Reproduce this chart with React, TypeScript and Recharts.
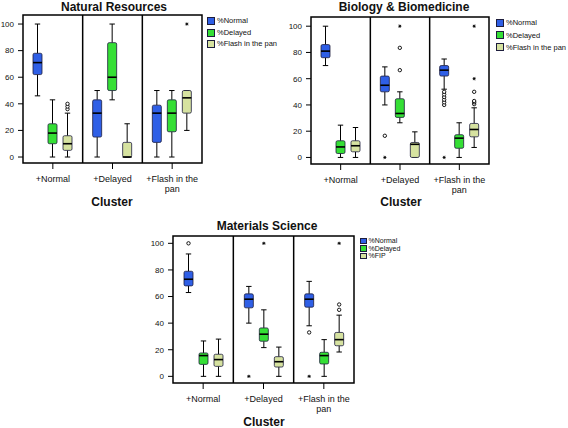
import React from "react";
import {
  ComposedChart,
  Bar,
  XAxis,
  YAxis,
  ReferenceArea,
  ReferenceLine,
} from "recharts";

const CATEGORIES = ["+Normal", "+Delayed", "+Flash in the pan"];
const Y_TICKS = [0, 20, 40, 60, 80, 100];

// [min, q1, median, q3, max] per cluster (+Normal, +Delayed, +Flash in the pan)
const nrNormal = [[46, 62, 71, 78, 100], [0, 15, 33, 43, 50], [0, 11, 33, 39, 50]];
const nrDelayed = [[0, 10, 18, 25, 43], [43, 50, 60, 86, 100], [0, 19, 33, 43, 50]];
const nrFlash = [[0, 5, 10, 16, 33], [0, 0, 0, 11, 25], [20, 33, 44.5, 50, 50]];
const nrFlashOut = [[36, 38, 40], [], []];
const nrFlashExt = [[], [], [100]];

const bbNormal = [[70, 76, 81, 86, 100], [40, 50, 55, 62, 69], [52, 62, 66.5, 70, 75]];
const bbNormalOut = [[], [16.5], [40, 42, 44, 46, 48, 50]];
const bbNormalExt = [[], [0], [0]];
const bbDelayed = [[0, 3, 8, 12.7, 24.6], [26.4, 30.5, 33.5, 44.7, 50], [0, 7, 14.7, 17.3, 26.4]];
const bbDelayedOut = [[], [66.5, 83.5], []];
const bbDelayedExt = [[], [100], []];
const bbFlash = [[0, 4.3, 8.9, 12.7, 22.8], [0, 0, 10, 11.4, 19.5], [7.6, 15.7, 21.3, 25.9, 37.8]];
const bbFlashOut = [[], [], [40.6, 42, 43, 50]];
const bbFlashExt = [[], [], [60, 100]];

const msNormal = [[63, 68, 73, 79, 92], [40, 51.5, 58, 62, 67.6], [38, 52, 58, 62, 71.4]];
const msNormalOut = [[100], [], [33]];
const msNormalExt = [[], [0], [0]];
const msDelayed = [[0, 9, 15.6, 17.6, 26.6], [21.6, 26.4, 31.7, 36.4, 50], [0, 9.3, 15.6, 18.1, 27.6]];
const msDelayedExt = [[], [100], []];
const msFlash = [[0, 7.5, 12.6, 16.6, 28], [0, 7, 11, 14.8, 22], [18.3, 23, 27.6, 33, 46]];
const msFlashOut = [[], [], [50, 54]];
const msFlashExt = [[], [], [100]];

const LEGEND_FULL = ["%Normal", "%Delayed", "%Flash in the pan"];
const LEGEND_SHORT = ["%Normal", "%Delayed", "%FIP"];

const SERIES = [
  { key: "normal", color: "#2f5fe6" },
  { key: "delayed", color: "#35df35" },
  { key: "fip", color: "#d6e2a0" },
];

const FONT = "'Liberation Sans', Arial, sans-serif";
const NONE: number[][] = [[], [], []];
// clusters sit in the middle of unit slots on a 0..3 axis
const X_TICKS = CATEGORIES.map((_, i) => i + 0.5);
const DIVIDERS = CATEGORIES.slice(1).map((_, i) => i + 1);

type Stats = { stats: number[]; out: number[]; ext: number[] };

function buildRows(
  normal: number[][], delayed: number[][], fip: number[][],
  out: number[][][] = [NONE, NONE, NONE], ext: number[][][] = [NONE, NONE, NONE]
) {
  return CATEGORIES.map((cat, i) => ({
    cat,
    pos: i + 0.5,
    normal: { stats: normal[i], out: out[0][i], ext: ext[0][i] },
    delayed: { stats: delayed[i], out: out[1][i], ext: ext[1][i] },
    fip: { stats: fip[i], out: out[2][i], ext: ext[2][i] },
  }));
}

const nrRows = buildRows(nrNormal, nrDelayed, nrFlash, [NONE, NONE, nrFlashOut], [NONE, NONE, nrFlashExt]);
const bbRows = buildRows(
  bbNormal, bbDelayed, bbFlash,
  [bbNormalOut, bbDelayedOut, bbFlashOut],
  [bbNormalExt, bbDelayedExt, bbFlashExt]
);
const msRows = buildRows(
  msNormal, msDelayed, msFlash,
  [msNormalOut, NONE, msFlashOut],
  [msNormalExt, msDelayedExt, msFlashExt]
);

// box drawn on the q1..q3 range bar; whiskers use the same pixel-per-unit
function makeBoxShape(key: string, color: string) {
  return (props: any) => {
    const { x, y, width, height, payload } = props;
    const s: Stats = payload[key];
    const [min, q1, med, q3, max] = s.stats;
    const k = height / (q3 - q1);
    const py = (v: number) => y + (q3 - v) * k;
    const cx = x + width / 2;
    const cap = width * 0.3;
    return (
      <g>
        <line x1={cx} x2={cx} y1={py(max)} y2={py(q3)} stroke="#000" strokeWidth={1} />
        <line x1={cx} x2={cx} y1={py(q1)} y2={py(min)} stroke="#000" strokeWidth={1} />
        <line x1={cx - cap} x2={cx + cap} y1={py(max)} y2={py(max)} stroke="#000" strokeWidth={1} />
        <line x1={cx - cap} x2={cx + cap} y1={py(min)} y2={py(min)} stroke="#000" strokeWidth={1} />
        <rect x={x} y={y} width={width} height={height} rx={1.5} fill={color} stroke="#1d1d3c" strokeWidth={0.8} />
        <line x1={x} x2={x + width} y1={py(med)} y2={py(med)} stroke="#000" strokeWidth={1.6} />
        {s.out.map((v, i) => (
          <circle key={"o" + i} cx={cx} cy={py(v)} r={1.7} fill="#fff" stroke="#000" strokeWidth={0.9} />
        ))}
        {s.ext.map((v, i) => (
          <g key={"e" + i} stroke="#000" strokeWidth={0.8}>
            <line x1={cx - 1.6} x2={cx + 1.6} y1={py(v)} y2={py(v)} />
            <line x1={cx} x2={cx} y1={py(v) - 1.6} y2={py(v) + 1.6} />
            <line x1={cx - 1.2} x2={cx + 1.2} y1={py(v) - 1.2} y2={py(v) + 1.2} />
            <line x1={cx - 1.2} x2={cx + 1.2} y1={py(v) + 1.2} y2={py(v) - 1.2} />
          </g>
        ))}
      </g>
    );
  };
}

function CategoryTick(props: any) {
  const { x, y, payload } = props;
  const label = CATEGORIES[Math.floor(payload.value)] ?? "";
  const words = label.split(" ");
  const lines: string[] = [];
  let cur = "";
  words.forEach((w) => {
    const next = cur ? cur + " " + w : w;
    if (next.length > 13 && cur) {
      lines.push(cur);
      cur = w;
    } else cur = next;
  });
  lines.push(cur);
  return (
    <text x={x} y={y} textAnchor="middle" fontSize={9} fontFamily={FONT} fill="#111">
      {lines.map((l, i) => (
        <tspan key={i} x={x} dy={i === 0 ? "0.71em" : 10}>
          {l}
        </tspan>
      ))}
    </text>
  );
}

interface PanelProps {
  rows: any[];
  domain: [number, number];
  width: number;
  height: number;
  margin: { top: number; right: number; left: number; bottom: number };
}

function Panel({ rows, domain, width, height, margin }: PanelProps) {
  return (
    <ComposedChart width={width} height={height} data={rows} margin={margin} barSize={9} barGap={6}>
      <XAxis
        dataKey="pos"
        type="number"
        domain={[0, 3]}
        allowDataOverflow
        ticks={X_TICKS}
        height={40}
        axisLine={false}
        tickSize={6}
        tickMargin={7}
        tickLine={{ stroke: "#000" }}
        tick={<CategoryTick />}
        interval={0}
      />
      <YAxis
        width={23}
        domain={domain}
        allowDataOverflow
        ticks={Y_TICKS}
        axisLine={false}
        tickSize={5}
        tickMargin={4}
        tickLine={{ stroke: "#000" }}
        tick={{ fontSize: 8, fill: "#111", fontFamily: FONT }}
      />
      {DIVIDERS.map((d) => (
        <ReferenceLine key={d} x={d} stroke="#000" strokeWidth={1.5} ifOverflow="visible" />
      ))}
      {SERIES.map((s) => (
        <Bar
          key={s.key}
          dataKey={(d: any) => [d[s.key].stats[1], d[s.key].stats[3]]}
          fill={s.color}
          shape={makeBoxShape(s.key, s.color)}
          isAnimationActive={false}
        />
      ))}
      <ReferenceArea
        x1={0}
        x2={3}
        y1={domain[0]}
        y2={domain[1]}
        fill="none"
        fillOpacity={0}
        stroke="#000"
        strokeWidth={1.5}
        ifOverflow="visible"
      />
    </ComposedChart>
  );
}

function LegendBox({ left, top, rowH, square, fontSize, labels }: any) {
  return (
    <div style={{ position: "absolute", left, top, fontFamily: FONT }}>
      {labels.map((label: string, i: number) => (
        <div key={label} style={{ height: rowH, display: "flex", alignItems: "center", whiteSpace: "nowrap" }}>
          <span
            style={{
              display: "inline-block",
              width: square,
              height: square,
              boxSizing: "border-box",
              background: SERIES[i].color,
              border: "1px solid #1d1d3c",
              marginRight: 2,
            }}
          />
          <span style={{ fontSize, color: "#111", lineHeight: 1 }}>{label}</span>
        </div>
      ))}
    </div>
  );
}

function Caption({ x, y, text }: { x: number; y: number; text: string }) {
  return (
    <div
      style={{
        position: "absolute",
        left: x,
        top: y,
        transform: "translate(-50%, -50%)",
        fontFamily: FONT,
        fontWeight: "bold",
        fontSize: 12,
        color: "#111",
        whiteSpace: "nowrap",
      }}
    >
      {text}
    </div>
  );
}

export default function App() {
  return (
    <div style={{ position: "absolute", left: 0, top: 0, width: 568, height: 428, background: "#fff", overflow: "hidden" }}>
      <div style={{ position: "absolute", left: 0, top: 0 }}>
        <Panel rows={nrRows} domain={[-4.5, 106.8]} width={210} height={215} margin={{ top: 15, right: 8, left: 0, bottom: 12 }} />
      </div>
      <Caption x={114} y={7} text="Natural Resources" />
      <Caption x={112} y={202} text="Cluster" />
      <LegendBox left={207} top={15} rowH={11.7} square={8} fontSize={7.5} labels={LEGEND_FULL} />

      <div style={{ position: "absolute", left: 288, top: 0 }}>
        <Panel rows={bbRows} domain={[-5, 107]} width={206} height={216} margin={{ top: 17, right: 5, left: 0, bottom: 12 }} />
      </div>
      <Caption x={404} y={7} text="Biology & Biomedicine" />
      <Caption x={401} y={202} text="Cluster" />
      <LegendBox left={496} top={17} rowH={12.2} square={8} fontSize={7.5} labels={LEGEND_FULL} />

      <div style={{ position: "absolute", left: 150, top: 221 }}>
        <Panel rows={msRows} domain={[-5, 105.5]} width={209} height={214} margin={{ top: 15, right: 5, left: 0, bottom: 12 }} />
      </div>
      <Caption x={267} y={226} text="Materials Science" />
      <Caption x={264} y={422} text="Cluster" />
      <LegendBox left={360} top={237} rowH={7.6} square={6.5} fontSize={7} labels={LEGEND_SHORT} />
    </div>
  );
}
